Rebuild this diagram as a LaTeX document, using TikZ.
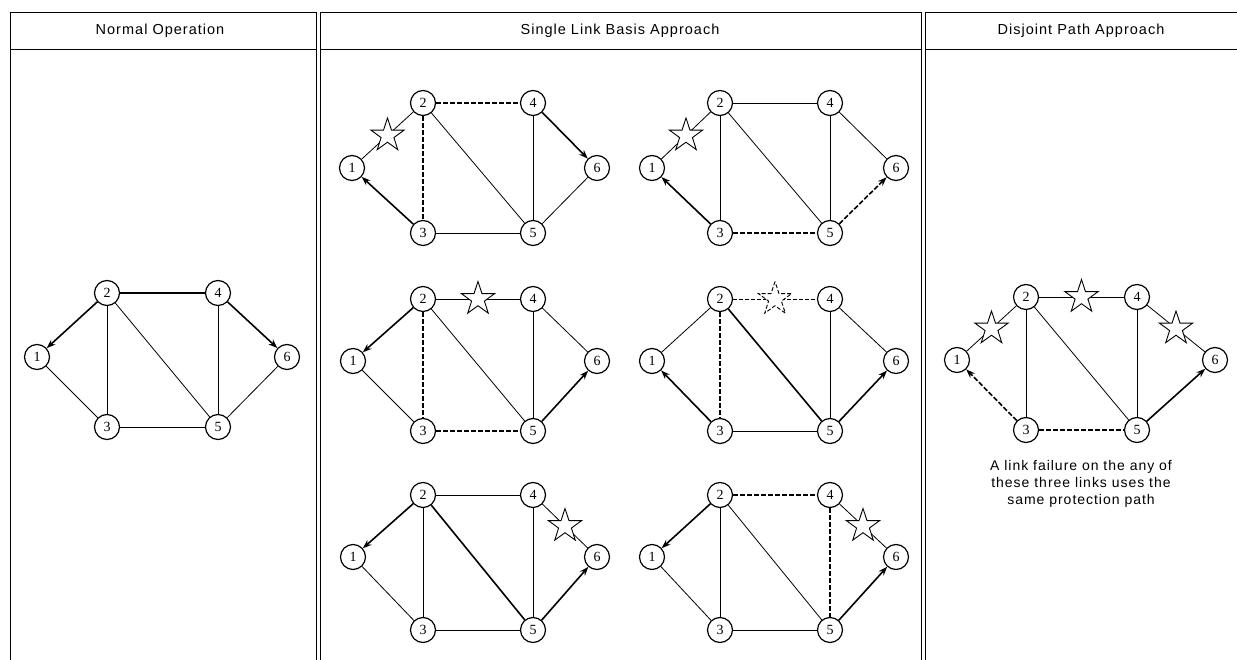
\documentclass[tikz,border=0pt]{standalone}
\usepackage{fontspec}
\setmainfont{Liberation Serif}
\newfontfamily\hdfont[LetterSpace=7]{Liberation Sans}
\usetikzlibrary{shapes.geometric,arrows.meta}
\tikzset{
  nd/.style={circle,draw,line width=1.2pt,minimum size=25pt,inner sep=0pt,fill=white,font=\fontsize{14}{14}\selectfont},
  ln/.style={line width=0.8pt},
  thk/.style={line width=1.2pt},
  wk/.style={line width=1.6pt,-{Stealth[length=9pt,width=6.5pt]}},
  bk/.style={line width=1.6pt,dash pattern=on 5pt off 2pt},
  bka/.style={bk,-{Stealth[length=9pt,width=6.5pt]}},
  fail/.style={star,star points=5,star point ratio=2.6,minimum size=35pt,draw,fill=white,inner sep=0pt,line width=0.9pt},
  hdr/.style={font=\hdfont\fontsize{14.5}{16}\selectfont},
  note/.style={font=\hdfont\fontsize{14}{17}\selectfont,align=center},
  frame/.style={line width=1pt},
}
% prefix, x1, y1, dx(2,3), dx(4,5), dx6, dy up, dy down
\newcommand\netnodes[8]{%
  \node[nd] (#1a) at (#2,#3) {1};
  \node[nd] (#1b) at (#2+#4,#3-#7) {2};
  \node[nd] (#1c) at (#2+#4,#3+#8) {3};
  \node[nd] (#1d) at (#2+#5,#3-#7) {4};
  \node[nd] (#1e) at (#2+#5,#3+#8) {5};
  \node[nd] (#1f) at (#2+#6,#3) {6};
}
\begin{document}
\begin{tikzpicture}[x=1pt,y=-1pt]
\useasboundingbox (0,0) rectangle (1237,660);
% frame
\draw[frame] (10,660) -- (10,13) -- (316,13) -- (316,660);
\draw[frame] (320,660) -- (320,13) -- (921,13) -- (921,660);
\draw[frame] (925,660) -- (925,13) -- (1237,13);
\draw[frame] (10,50) -- (316,50) (320,50) -- (921,50) (925,50) -- (1237,50);
% headers
\node[hdr] (h1) at (160,31) {Normal Operation};
\node[hdr] (h2) at (620,31) {Single Link Basis Approach};
\node[hdr] (h3) at (1081,31) {Disjoint Path Approach};

% ---------- Normal operation ----------
\netnodes{L}{37}{357}{70}{181}{250}{64}{70}
\draw[ln] (La) -- (Lc);
\draw[ln] (Lb) -- (Lc);
\draw[ln] (Lb) -- (Le);
\draw[ln] (Lc) -- (Le);
\draw[ln] (Ld) -- (Le);
\draw[ln] (Le) -- (Lf);
\draw[thk] (Lb) -- (Ld);
\draw[wk] (Lb) -- (La);
\draw[wk] (Ld) -- (Lf);

% ---------- Single link: top left ----------
\netnodes{A}{352}{168}{71}{181}{245}{65}{65}
\draw[ln] (Aa) -- node[fail] (sA) {} (Ab);
\draw[ln] (Ab) -- (Ae);
\draw[ln] (Ad) -- (Ae);
\draw[ln] (Ac) -- (Ae);
\draw[ln] (Ae) -- (Af);
\draw[bk] (Ab) -- (Ad);
\draw[bk] (Ab) -- (Ac);
\draw[wk] (Ac) -- (Aa);
\draw[wk] (Ad) -- (Af);

% ---------- top right ----------
\netnodes{B}{652}{168}{68}{178}{244}{65}{65}
\draw[ln] (Ba) -- node[fail] (sB) {} (Bb);
\draw[ln] (Bb) -- (Bd);
\draw[ln] (Bb) -- (Bc);
\draw[ln] (Bb) -- (Be);
\draw[ln] (Bd) -- (Be);
\draw[ln] (Bd) -- (Bf);
\draw[wk] (Bc) -- (Ba);
\draw[bk] (Bc) -- (Be);
\draw[bka] (Be) -- (Bf);

% ---------- middle left ----------
\netnodes{C}{353}{361}{70}{180}{244}{62}{70}
\draw[ln] (Cb) -- node[fail] (sC) {} (Cd);
\draw[ln] (Ca) -- (Cc);
\draw[ln] (Cb) -- (Ce);
\draw[ln] (Cd) -- (Ce);
\draw[ln] (Cd) -- (Cf);
\draw[wk] (Cb) -- (Ca);
\draw[bk] (Cb) -- (Cc);
\draw[bk] (Cc) -- (Ce);
\draw[wk] (Ce) -- (Cf);

% ---------- middle right ----------
\netnodes{D}{652}{361}{68}{178}{244}{62}{70}
\draw[ln,dash pattern=on 4pt off 2pt] (Db) -- node[fail] (sD) {} (Dd);
\draw[ln] (Da) -- (Db);
\draw[ln] (Dc) -- (De);
\draw[ln] (Dd) -- (De);
\draw[ln] (Dd) -- (Df);
\draw[bk] (Db) -- (Dc);
\draw[wk] (Dc) -- (Da);
\draw[line width=1.6pt] (Db) -- (De);
\draw[wk] (De) -- (Df);

% ---------- bottom left ----------
\netnodes{E}{353}{557}{70}{180}{244}{62}{73}
\draw[ln] (Ed) -- node[fail] (sE) {} (Ef);
\draw[ln] (Ea) -- (Ec);
\draw[ln] (Eb) -- (Ec);
\draw[ln] (Eb) -- (Ed);
\draw[ln] (Ec) -- (Ee);
\draw[ln] (Ed) -- (Ee);
\draw[wk] (Eb) -- (Ea);
\draw[line width=1.6pt] (Eb) -- (Ee);
\draw[wk] (Ee) -- (Ef);

% ---------- bottom right ----------
\netnodes{F}{652}{557}{68}{178}{244}{62}{73}
\draw[ln] (Fd) -- node[fail] (sF) {} (Ff);
\draw[ln] (Fa) -- (Fc);
\draw[ln] (Fb) -- (Fc);
\draw[ln] (Fb) -- (Fe);
\draw[ln] (Fc) -- (Fe);
\draw[wk] (Fb) -- (Fa);
\draw[bk] (Fb) -- (Fd);
\draw[bk] (Fd) -- (Fe);
\draw[wk] (Fe) -- (Ff);

% ---------- Disjoint path ----------
\netnodes{R}{957}{360}{69}{180}{258}{63}{70}
\draw[ln] (Ra) -- node[fail] (sR1) {} (Rb);
\draw[ln] (Rb) -- node[fail] (sR2) {} (Rd);
\draw[ln] (Rd) -- node[fail] (sR3) {} (Rf);
\draw[ln] (Rb) -- (Rc);
\draw[ln] (Rb) -- (Re);
\draw[ln] (Rd) -- (Re);
\draw[bka] (Rc) -- (Ra);
\draw[bk] (Rc) -- (Re);
\draw[wk] (Re) -- (Rf);
\node[note] (nt) at (1081,484) {A link failure on the any of\\these three links uses the\\same protection path};
\end{tikzpicture}
\end{document}
